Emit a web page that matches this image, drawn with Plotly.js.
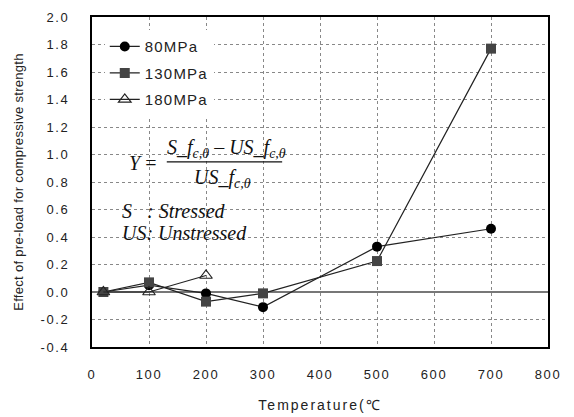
<!DOCTYPE html>
<html><head><meta charset="utf-8">
<script src="https://cdn.plot.ly/plotly-3.0.1.min.js"></script>
<style>
html,body{margin:0;padding:0;background:#fff;}#chart{width:574px;height:417px;}
.xtick text, .ytick text {letter-spacing: 1.6px;}
.legendtext {letter-spacing: 1.2px;}
.g-xtitle text {letter-spacing: 2px;}
.g-ytitle text {letter-spacing: 0.3px;}
</style>
</head><body><div id="chart"></div>
<script>
const temps80 = [20, 100, 200, 300, 500, 700];
const vals80 = [0, 0.05, -0.01, -0.11, 0.33, 0.46];
const temps130 = [20, 100, 200, 300, 500, 700];
const vals130 = [0, 0.07, -0.07, -0.01, 0.225, 1.77];
const temps180 = [20, 100, 200];
const vals180 = [0, 0, 0.12];
const seriesNames = ['80MPa', '130MPa', '180MPa'];
const xTicks = [0, 100, 200, 300, 400, 500, 600, 700, 800];
const yTicks = [-0.4, -0.2, 0, 0.2, 0.4, 0.6, 0.8, 1.0, 1.2, 1.4, 1.6, 1.8, 2.0];

const lineStyle = {color: '#222', width: 1.2};
const traces = [
  {x: temps80, y: vals80, name: seriesNames[0], legendgroup: 'a', mode: 'lines+markers', line: lineStyle,
   marker: {symbol: 'circle', size: 10, color: '#000'}},
  {x: temps130, y: vals130, name: seriesNames[1], legendgroup: 'b', mode: 'lines+markers', line: lineStyle,
   marker: {symbol: 'square', size: 10, color: '#444'}},
  {x: temps180, y: vals180, name: seriesNames[2], legendgroup: 'c', mode: 'lines+markers', line: lineStyle,
   marker: {symbol: 'triangle-up-open', size: 11, color: '#222', line: {width: 1.2}}}
];

const tf = {family: 'Liberation Sans, Arial, sans-serif', size: 13, color: '#222'};
const mf = {family: 'Liberation Serif, Times New Roman, serif', size: 20, color: '#111'};
const layout = {
  width: 574, height: 417,
  margin: {l: 92, r: 26, t: 17, b: 70},
  paper_bgcolor: '#fff', plot_bgcolor: '#fff',
  showlegend: true,
  legend: {x: 0.028, y: 0.96, xanchor: 'left', yanchor: 'top', bgcolor: 'rgba(255,255,255,1)',
    font: {family: 'Liberation Sans, Arial, sans-serif', size: 15, color: '#222'},
    tracegroupgap: 4, borderwidth: 0},
  xaxis: {range: [0, 800], tickvals: xTicks, ticktext: xTicks.map(String),
    showgrid: true, gridcolor: '#888', griddash: 'dot', gridwidth: 1,
    zeroline: false, showline: true, mirror: true, linecolor: '#000', linewidth: 2,
    ticks: '', ticklabelstandoff: 14, tickfont: tf,
    title: {text: 'Temperature(℃', font: {family: 'Liberation Sans, Arial, sans-serif', size: 14, color: '#222'}, standoff: 20}},
  yaxis: {range: [-0.4, 2.0], tickvals: yTicks, ticktext: yTicks.map(v => v.toFixed(1)),
    showgrid: true, gridcolor: '#888', griddash: 'dot', gridwidth: 1,
    zeroline: true, zerolinecolor: '#777', zerolinewidth: 1.2,
    showline: true, mirror: true, linecolor: '#000', linewidth: 2,
    ticks: '', ticklabelstandoff: 18, tickfont: tf,
    title: {text: 'Effect of pre-load for compressive strength', font: tf, standoff: 14}},
  shapes: [
    {type: 'rect', xref: 'paper', yref: 'paper', x0: 0.06, x1: 0.44, y0: 0.48, y1: 0.64,
     fillcolor: '#fff', line: {width: 0}, layer: 'between'},
    {type: 'rect', xref: 'paper', yref: 'paper', x0: 0.06, x1: 0.34, y0: 0.31, y1: 0.45,
     fillcolor: '#fff', line: {width: 0}, layer: 'between'},
    {type: 'line', xref: 'paper', yref: 'paper', x0: 0.164, x1: 0.417, y0: 0.561, y1: 0.561,
     line: {color: '#111', width: 1.2}, layer: 'above'}
  ],
  annotations: [
    {xref: 'paper', yref: 'paper', x: 0.11, y: 0.558, text: '<i>Y</i> =', showarrow: false,
     font: mf, xanchor: 'center', yanchor: 'middle'},
    {xref: 'paper', yref: 'paper', x: 0.295, y: 0.602, text: '<i>S_f<sub>c,θ</sub> – US_f<sub>c,θ</sub></i>',
     showarrow: false, font: mf, xanchor: 'center', yanchor: 'middle'},
    {xref: 'paper', yref: 'paper', x: 0.287, y: 0.512, text: '<i>US_f<sub>c,θ</sub></i>',
     showarrow: false, font: mf, xanchor: 'center', yanchor: 'middle'},
    {xref: 'paper', yref: 'paper', x: 0.062, y: 0.412, text: '<i>S   : Stressed</i>',
     showarrow: false, font: mf, xanchor: 'left', yanchor: 'middle'},
    {xref: 'paper', yref: 'paper', x: 0.062, y: 0.345, text: '<i>US: Unstressed</i>',
     showarrow: false, font: mf, xanchor: 'left', yanchor: 'middle'}
  ]
};
Plotly.newPlot('chart', traces, layout, {displayModeBar: false, staticPlot: true});
</script></body></html>
